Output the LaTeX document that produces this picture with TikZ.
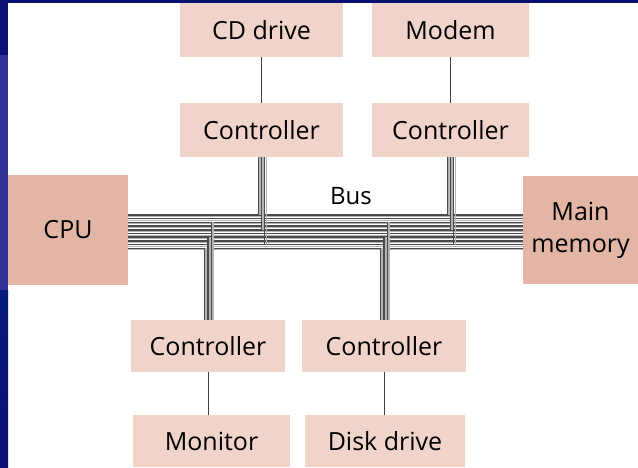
\documentclass[tikz,border=0pt]{standalone}
\usepackage{fontspec}
\setmainfont{Open Sans}
\usetikzlibrary{calc}
\definecolor{boxpink}{HTML}{F0D4C9}
\definecolor{boxrose}{HTML}{E2B5A5}
\definecolor{busdark}{HTML}{4A4A4A}
\definecolor{buslight}{HTML}{B4B4B4}
\definecolor{navy}{HTML}{0A1070}
\definecolor{navymid}{HTML}{2D3192}
\definecolor{navylow}{HTML}{061A78}
\begin{document}
\begin{tikzpicture}[x=1pt,y=-1pt,
  unit/.style={rectangle, fill=boxpink, inner sep=0pt,
    font=\fontsize{25}{32}\selectfont, text=black},
  mainunit/.style={unit, fill=boxrose},
  wire/.style={draw=black!75, line width=0.9pt},
  busline/.style={draw=busdark, line width=1.5pt},
  busshade/.style={draw=buslight, line width=1pt},
  tapline/.style={draw=busdark, line width=1.3pt},
  tapshade/.style={draw=buslight, line width=1.8pt}]
\useasboundingbox (0,0) rectangle (638,468);
\fill[white] (0,0) rectangle (638,468);

% slide edge on the left and along the top
\fill[navy] (0,0) rectangle (8,55);
\fill[navymid] (0,55) rectangle (8,290);
\shade[top color=navylow, bottom color=navy] (0,290) rectangle (8,468);
\fill[navy] (0,0) rectangle (638,3);

% units
\node[unit, minimum width=163pt, minimum height=54pt] (cd) at (261.5,30) {CD drive};
\node[unit, minimum width=157pt, minimum height=54pt] (modem) at (450.5,30) {Modem};
\node[unit, minimum width=163pt, minimum height=54pt] (cdc) at (261.5,130) {Controller};
\node[unit, minimum width=157pt, minimum height=54pt] (mc) at (450.5,130) {Controller};
\node[mainunit, minimum width=120pt, minimum height=110pt] (cpu) at (68,230) {CPU};
\node[mainunit, minimum width=115pt, minimum height=108pt, align=center] (mem) at (580.5,230) {Main\\memory};
\node[unit, minimum width=154pt, minimum height=52pt] (monc) at (208,346) {Controller};
\node[unit, minimum width=164pt, minimum height=52pt] (diskc) at (384,346) {Controller};
\node[unit, minimum width=157pt, minimum height=52pt] (mon) at (211.5,441) {Monitor};
\node[unit, minimum width=160pt, minimum height=52pt] (disk) at (385,441) {Disk drive};
\node[font=\fontsize{24}{28}\selectfont, inner sep=0pt] (buslabel) at (351,196) {Bus};

% device to controller links
\draw[wire] (cd) -- (cdc);
\draw[wire] (modem) -- (mc);
\draw[wire] (monc) -- (monc |- mon.north);
\draw[wire] (diskc) -- (diskc |- disk.north);

% the bus: ten parallel lines between CPU and main memory
\foreach \i in {0,...,9} {
  \pgfmathsetmacro{\by}{215+3.7*\i}
  \draw[busshade] (cpu.east |- 0,\by+1.6) -- (mem.west |- 0,\by+1.6);
  \draw[busline] (cpu.east |- 0,\by) -- (mem.west |- 0,\by);
}

% controller taps from above: each line drops to its own bus line
\foreach \c in {cdc,mc} {
  \foreach \dx/\k in {-3.3/0,0/4,3.3/8} {
    \pgfmathsetmacro{\ey}{215+3.7*\k}
    \path (\c.south) ++(\dx,0) coordinate (t);
    \draw[tapshade] ($(t)+(1.65,0)$) -- ($(t |- 0,\ey)+(1.65,0)$);
    \draw[tapline] (t) -- (t |- 0,\ey);
  }
}

% controller taps from below
\foreach \c in {monc,diskc} {
  \foreach \dx/\k in {-3.3/9,0/6,3.3/2} {
    \pgfmathsetmacro{\ey}{215+3.7*\k}
    \path (\c.north) ++(\dx,0) coordinate (t);
    \draw[tapshade] ($(t)+(1.65,0)$) -- ($(t |- 0,\ey)+(1.65,0)$);
    \draw[tapline] (t) -- (t |- 0,\ey);
  }
}
\end{tikzpicture}
\end{document}
